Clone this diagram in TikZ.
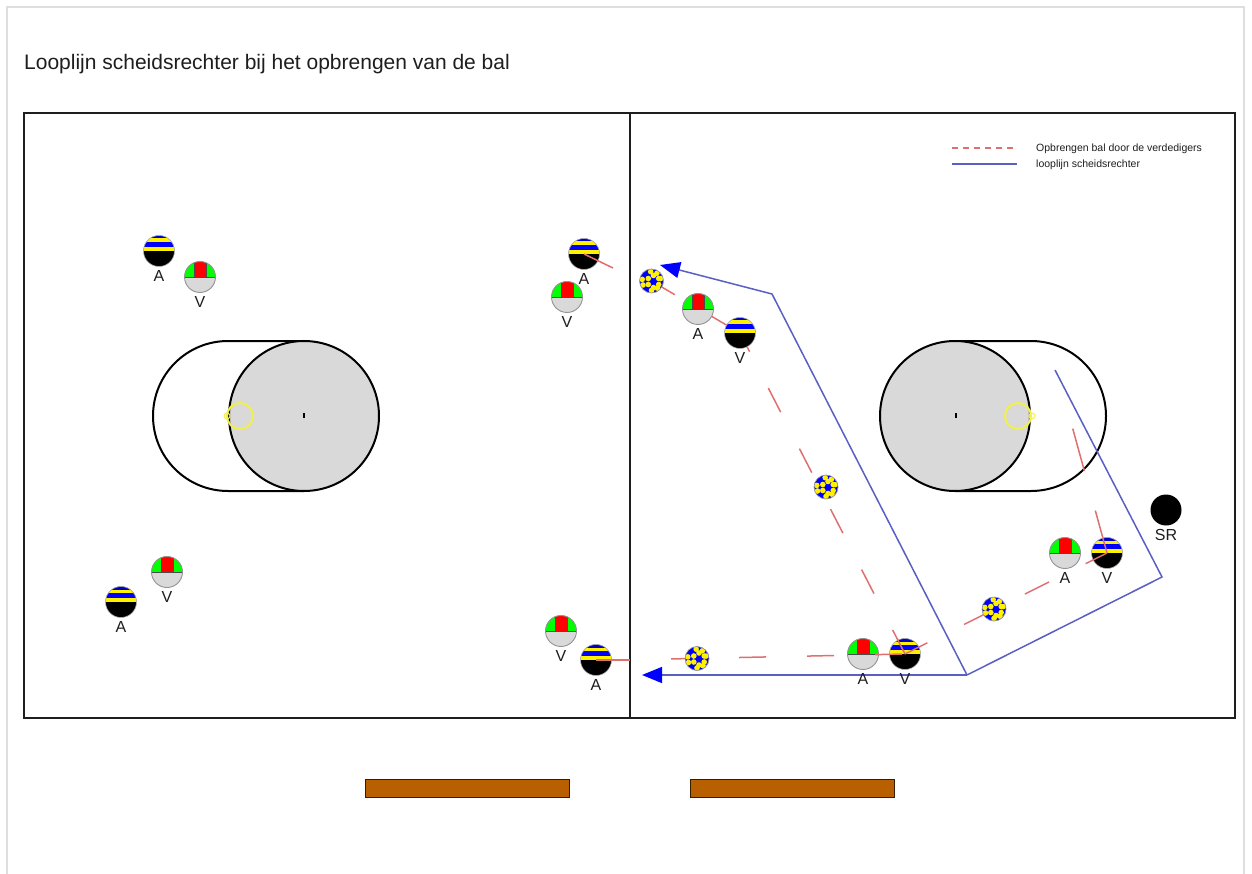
\documentclass[tikz,border=0pt]{standalone}
\usepackage{fontspec}
\setmainfont{Liberation Sans}
\usetikzlibrary{arrows.meta}
\pgfdeclarelayer{redtop}
\pgfdeclarelayer{front}
\definecolor{courtgray}{HTML}{D9D9D9}
\definecolor{runblue}{HTML}{5A5FC4}
\definecolor{passred}{HTML}{E07070}
\definecolor{benchbrown}{HTML}{B85F00}
\definecolor{inkdark}{HTML}{1E1E1E}
\definecolor{ringyellow}{HTML}{F2F04A}
\tikzset{
  x=1pt,y=-1pt,
  plabel/.style={font=\fontsize{16}{16}\selectfont,text=inkdark,inner sep=0pt,label distance=3.5pt},
  attacker/.style={circle,inner sep=0pt,minimum size=31pt,fill=black,draw=gray!60,line width=.6pt,
    label={[plabel]below:#1},
    path picture={
      \begin{scope}[shift={(path picture bounding box.center)}]
        \fill[blue!80!black] (-17,-17) rectangle (17,-12.5);
        \fill[yellow] (-17,-12.5) rectangle (17,-9);
        \fill[blue] (-17,-9) rectangle (17,-4);
        \fill[yellow] (-17,-4) rectangle (17,0);
      \end{scope}}},
  defender/.style={circle,inner sep=0pt,minimum size=31pt,fill=courtgray,draw=gray!85,line width=.9pt,
    label={[plabel]below:#1},
    path picture={
      \begin{scope}[shift={(path picture bounding box.center)}]
        \fill[green] (-17,-17) rectangle (17,0);
        \fill[red] (-6,-17) rectangle (6,0);
        \draw[black!70,line width=.4pt] (-6,-17) -- (-6,0) (6,-17) -- (6,0) (-17,0) -- (17,0);
      \end{scope}}},
  referee/.style={circle,inner sep=0pt,minimum size=31pt,fill=black,label={[plabel]below:#1}},
  ballnode/.style={circle,inner sep=0pt,minimum size=24pt,fill=blue,draw=gray!80,line width=.7pt,
    path picture={
      \begin{scope}[shift={(path picture bounding box.center)}]
        \foreach \a in {30,90,150,210,270,330}
          \fill[yellow] ({2+6*cos(\a)},{0.5-6*sin(\a)}) circle (2.8);
        \foreach \a in {15,55,95,170,205,270,310}
          \fill[yellow] ({9.4*cos(\a)},{-9.4*sin(\a)}) circle (2.8);
      \end{scope}}},
  courtline/.style={draw=black,line width=2pt},
  passline/.style={draw=passred,line width=1.5pt},
  passdash/.style={passline,dash pattern=on 27pt off 41pt},
  runline/.style={draw=runblue,line width=1.5pt},
  bigtip/.style={-{Triangle[length=20pt,width=16pt,color=blue]}},
  ring/.style={draw=ringyellow,line width=2pt},
  bench/.style={draw=black!70!benchbrown,fill=benchbrown,line width=.8pt},
  spot/.style={fill=black,inner sep=0pt,minimum width=2pt,minimum height=5pt},
  legendtext/.style={font=\fontsize{10.5}{10.5}\selectfont,text=inkdark,anchor=west,inner sep=0pt}
}
\begin{document}
\begin{tikzpicture}
\pgfsetlayers{main,redtop,front}
\useasboundingbox (0,0) rectangle (1252,874);
\fill[white] (0,0) rectangle (1252,874);
% page frame
\draw[draw=black!13,line width=1.5pt] (7,874) -- (7,7) -- (1244,7) -- (1244,874);
% title
\node[font=\fontsize{21}{21}\selectfont,text=inkdark,anchor=west,inner sep=0pt] (title) at (24,64.5) {Looplijn scheidsrechter bij het opbrengen van de bal};
% field
\draw[draw=inkdark,line width=2pt] (24,113) rectangle (1235,718);
\draw[draw=inkdark,line width=2pt] (630,113) -- (630,718);
% left zone
\draw[courtline] (304,341) -- (228,341) arc[start angle=-90,end angle=-270,radius=75] -- (304,491);
\draw[courtline,fill=courtgray] (304,416) circle (75);
\node[spot] (spotL) at (303.5,415) {};
\draw[ring] (240,416) circle (13);
\draw[ring,line width=1pt] (227,416) circle (3);
% right zone
\draw[courtline] (955,341) -- (1031,341) arc[start angle=-90,end angle=90,radius=75] -- (955,491);
\draw[courtline,fill=courtgray] (955,416) circle (75);
\node[spot] (spotR) at (955.5,415) {};
\draw[ring] (1018,416) circle (13);
\draw[ring,line width=1pt] (1032,416) circle (3);
% benches
\node[bench,minimum width=204pt,minimum height=18pt,inner sep=0pt] (benchL) at (467,788) {};
\node[bench,minimum width=204pt,minimum height=18pt,inner sep=0pt] (benchR) at (792,788) {};
% legend
\coordinate (lg1a) at (952,148); \coordinate (lg1b) at (1017,148);
\coordinate (lg2a) at (952,164); \coordinate (lg2b) at (1017,164);
\draw[passline,dash pattern=on 6pt off 5pt] (lg1a) -- (lg1b);
\draw[runline] (lg2a) -- (lg2b);
\node[legendtext] (lt1) at (1036,148.5) {Opbrengen bal door de verdedigers};
\node[legendtext] (lt2) at (1036,164.5) {looplijn scheidsrechter};
% referee run
\coordinate (r0) at (1055,370); \coordinate (r1) at (1162,577); \coordinate (r2) at (967,675);
\coordinate (r3) at (772,294); \coordinate (r4) at (660,265); \coordinate (r5) at (642,675);
\draw[runline,line join=miter] (r0) -- (r1) -- (r2);
\draw[runline,bigtip] (r2) -- (r3) -- (r4);
\draw[runline,bigtip] (r2) -- (r5);
% players
\node[attacker=A] (a1) at (159,251) {};
\node[defender=V] (d1) at (200,277) {};
\node[attacker=A] (a2) at (584,254) {};
\node[defender=V] (d2) at (567,297) {};
\node[defender=V] (d3) at (167,572) {};
\node[attacker=A] (a3) at (121,602) {};
\node[defender=V] (d4) at (561,631) {};
\node[attacker=A] (a4) at (596,660) {};
\node[defender=A] (d6) at (863,654) {};
\node[attacker=V] (a6) at (905,654) {};
\node[defender=A] (d7) at (1065,553) {};
\node[attacker=V] (a7) at (1107,553) {};
\node[referee=SR] (sr) at (1166,510) {};
\begin{pgfonlayer}{front}
\node[defender=A] (d5) at (698,309) {};
\node[attacker=V] (a5) at (740,333) {};
\node[ballnode] (b1) at (651.5,281) {};
\node[ballnode] (b2) at (826,487) {};
\node[ballnode] (b3) at (994,609) {};
\node[ballnode] (b4) at (697,658.5) {};
\end{pgfonlayer}
% ball path
\coordinate (p1) at (613,268);
\coordinate (p2) at (630,660);
\coordinate (p3) at (1072,426);
\coordinate (p4) at (669,659);
\begin{pgfonlayer}{redtop}
\draw[passline] (a2.center) -- (p1);
\draw[passline] (a4.center) -- (p2);
\draw[passdash] (b1.center) -- (a5.center);
\draw[passdash,dash phase=6pt] (a5.center) -- (a6.center);
\draw[passdash,dash phase=2pt] (a6.center) -- (a7.center);
\draw[passdash,dash phase=65pt] (a6.center) -- (p4);
\draw[passline,dash pattern=on 44pt off 41pt] (a7.center) -- (p3);
\end{pgfonlayer}
\end{tikzpicture}
\end{document}
